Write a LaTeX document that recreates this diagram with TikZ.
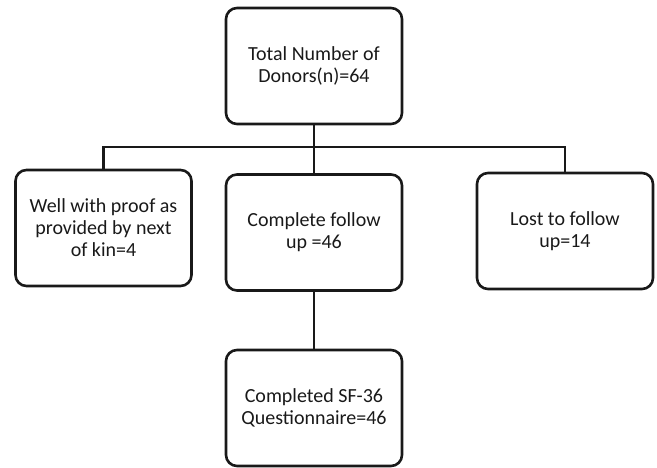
\documentclass[tikz,border=0pt]{standalone}
\usepackage{fontspec}
\setmainfont{Carlito}
\begin{document}
\begin{tikzpicture}[x=1pt,y=-1pt,
  box/.style={draw=black!90, line width=2.6pt, rounded corners=11pt, minimum width=176pt, minimum height=116pt, inner sep=0pt, align=center, font=\fontsize{20}{22}\selectfont, text=black!90},
  conn/.style={draw=black!90, line width=2.4pt}]
\useasboundingbox (0,0) rectangle (657,468);
\node[box] (top) at (314,66) {Total Number of\\Donors(n)=64};
\node[box] (left) at (103.5,228) {Well with proof as\\provided by next\\of kin=4};
\node[box] (mid) at (314,232.5) {Complete follow\\up =46};
\node[box] (right) at (565,231) {Lost to follow\\up=14};
\node[box] (bot) at (314,408) {Completed SF-36\\Questionnaire=46};
\coordinate (bar) at (314,147);
\draw[conn] (left.north) |- (bar) -| (right.north);
\draw[conn] (top.south) -- (mid.north);
\draw[conn] (mid.south) -- (bot.north);
\end{tikzpicture}
\end{document}
